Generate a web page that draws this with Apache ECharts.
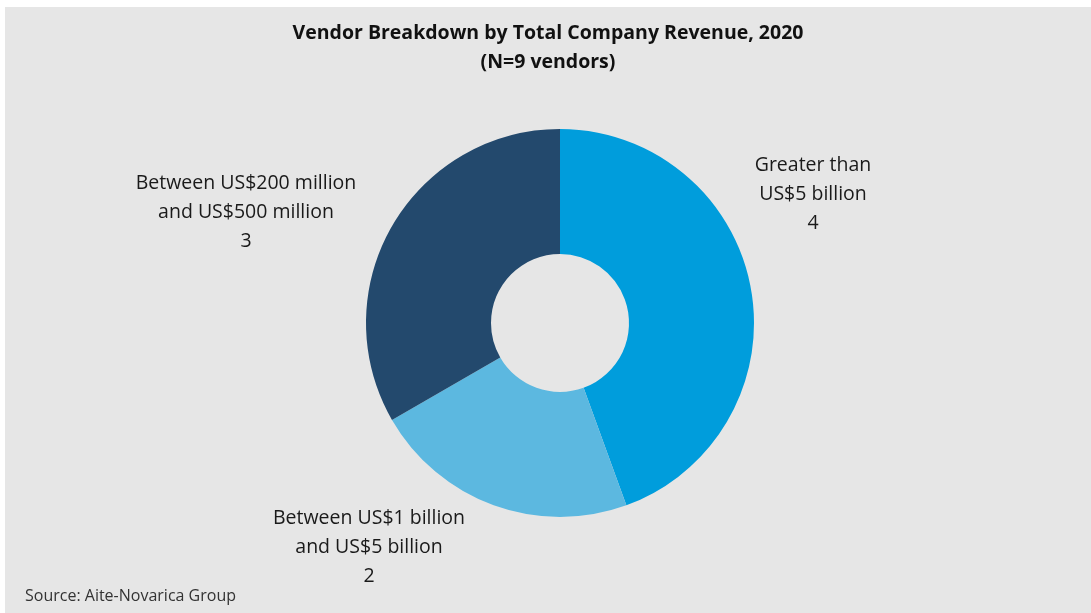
<!DOCTYPE html>
<html lang="en">

<head>
    <meta charset="UTF-8">
    <script src="https://cdn.jsdelivr.net/npm/echarts@6/dist/echarts.min.js"></script>
    <title>vendor-breakdown</title>
    <style>
        body { margin: 0; background: #ffffff; }
        #main { position: absolute; left: 5px; top: 7px; width: 1086px; height: 606px; background: #e6e6e6; }
    </style>
</head>

<body>
    <div id="main"></div>

    <script type="text/javascript">
        // data
        let categories = ['Greater than\nUS$5 billion', 'Between US$1 billion\nand US$5 billion', 'Between US$200 million\nand US$500 million'];
        let vendors = [4, 2, 3];

        let colors = ['#009ddc', '#5cb8e0', '#23496d'];
        // where each label block sits, relative to the pie centre
        let labelOffset = [[253, -129], [-191, 224], [-314, -111]];
        let center = [555, 316];

        let myChart = echarts.init(document.getElementById('main'));

        let option = {
            color: colors,
            title: {
                text: 'Vendor Breakdown by Total Company Revenue, 2020\n(N=9 vendors)',
                left: 'center',
                top: 7,
                textStyle: {
                    fontFamily: 'Open Sans',
                    fontWeight: 'bold',
                    fontSize: 19.5,
                    lineHeight: 29,
                    color: '#111'
                }
            },
            graphic: [{
                type: 'text',
                left: 20,
                top: 581,
                style: {
                    text: 'Source: Aite-Novarica Group',
                    fontFamily: 'Open Sans',
                    fontSize: 16,
                    fill: '#333'
                }
            }],
            series: [{
                type: 'pie',
                center: center,
                radius: [69, 194],
                startAngle: 90,
                silent: true,
                itemStyle: { borderWidth: 0 },
                label: {
                    show: true,
                    position: 'outside',
                    fontFamily: 'Open Sans',
                    fontSize: 19.5,
                    lineHeight: 29,
                    color: '#1a1a1a',
                    formatter: p => p.name + '\n' + p.value
                },
                labelLine: { show: false },
                labelLayout: function (params) {
                    let o = labelOffset[params.dataIndex];
                    return {
                        x: center[0] + o[0],
                        y: center[1] + o[1],
                        align: 'center',
                        verticalAlign: 'middle'
                    };
                },
                data: categories.map((c, i) => ({ name: c, value: vendors[i] }))
            }]
        };

        myChart.setOption(option);
    </script>
</body>

</html>
